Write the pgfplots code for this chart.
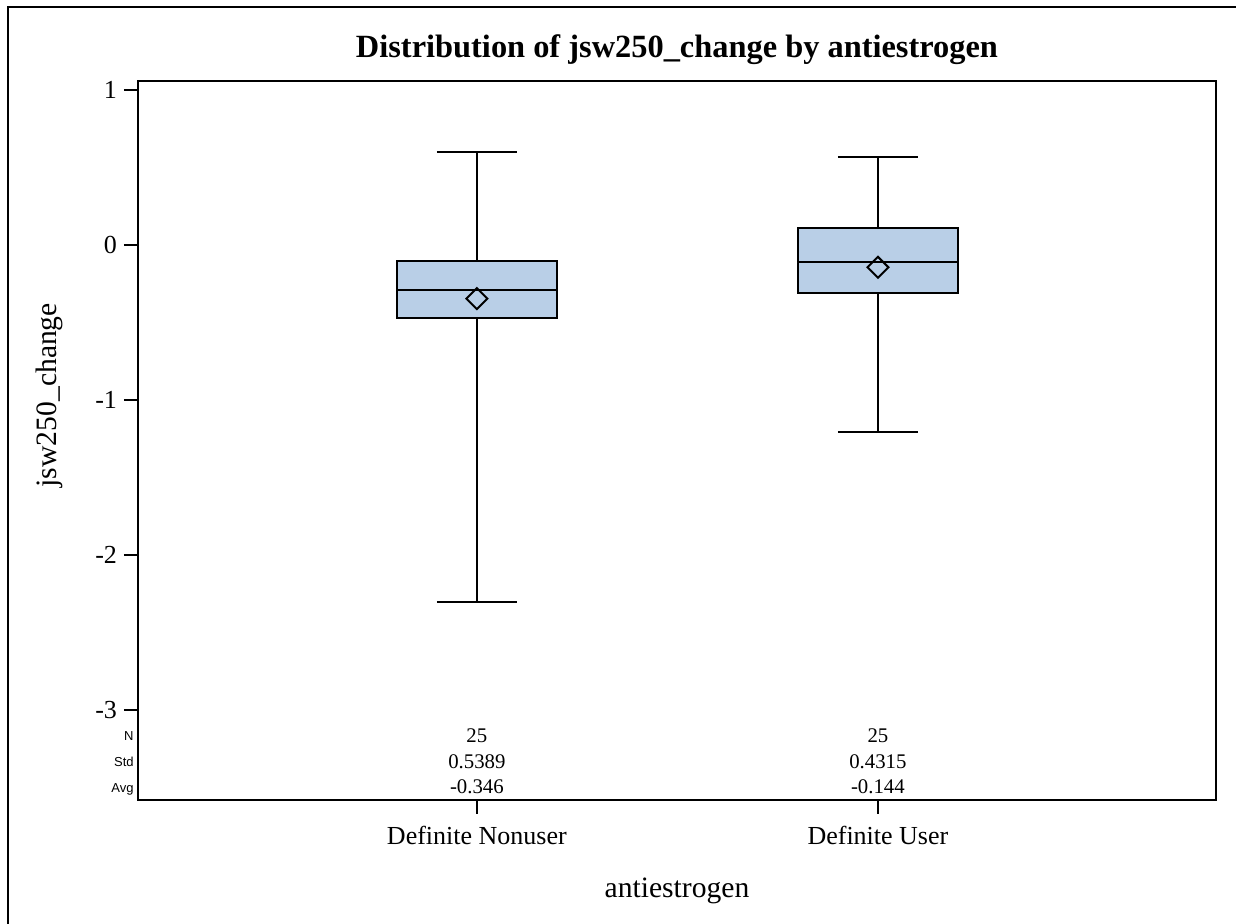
\documentclass[border=0pt]{standalone}
\usepackage{fontspec}
\setmainfont{Liberation Serif}
\newfontfamily\sasfont{Liberation Sans}
\usepackage{pgfplots}
\pgfplotsset{compat=1.18}
\usepgfplotslibrary{statistics}
\definecolor{boxblue}{RGB}{185,207,231}

\begin{document}
\begin{tikzpicture}
\begin{axis}[
    scale only axis, width=539pt, height=359.5pt,
    at={(69pt,62pt)}, anchor=south west,
    xmin=-0.845, xmax=1.843, ymin=-3.581, ymax=1.058,
    boxplot/draw direction=y,
    xtick={0,1}, xticklabels={Definite Nonuser, Definite User},
    ytick={-3,-2,-1,0,1},
    tick align=outside, xtick pos=bottom, ytick pos=left,
    major tick length=7pt,
    axis line style={line width=1pt},
    every tick/.style={black, line width=1pt},
    tick label style={font=\fontsize{13}{15}\selectfont},
    xticklabel style={yshift=-2.5pt},
    /pgf/number format/assume math mode=true,
    title={Distribution of jsw250\_change by antiestrogen},
    title style={font=\bfseries\fontsize{16.2}{19}\selectfont, at={(rel axis cs:0.5,1)}, anchor=base, yshift=5.5pt},
    xlabel={antiestrogen}, ylabel={jsw250\_change},
    label style={font=\fontsize{14.8}{17}\selectfont},
    xlabel style={at={(rel axis cs:0.5,-0.135)}, anchor=base},
    ylabel style={at={(rel axis cs:-0.0826,0.563)}, anchor=center},
    clip=false,
]
% Definite Nonuser
\addplot[draw=black, fill=boxblue, line width=1pt,
    boxplot prepared={lower whisker=-2.306, lower quartile=-0.469, median=-0.290,
        upper quartile=-0.103, upper whisker=0.598,
        draw position=0, box extend=0.4, whisker extend=0.2}]
    coordinates {};
% Definite User
\addplot[draw=black, fill=boxblue, line width=1pt,
    boxplot prepared={lower whisker=-1.208, lower quartile=-0.312, median=-0.112,
        upper quartile=0.108, upper whisker=0.570,
        draw position=1, box extend=0.4, whisker extend=0.2}]
    coordinates {};
% means
\addplot[only marks, mark=square, mark size=3.7pt, line width=1pt,
    mark options={rotate=45, draw=black, fill=none}]
    coordinates {(0,-0.346) (1,-0.144)};

% statistics table
\node[anchor=base, font=\fontsize{10.4}{12}\selectfont] at (axis cs:0,-3.213) {25};
\node[anchor=base, font=\fontsize{10.4}{12}\selectfont] at (axis cs:0,-3.381) {0.5389};
\node[anchor=base, font=\fontsize{10.4}{12}\selectfont] at (axis cs:0,-3.542) {-0.346};
\node[anchor=base, font=\fontsize{10.4}{12}\selectfont] at (axis cs:1,-3.213) {25};
\node[anchor=base, font=\fontsize{10.4}{12}\selectfont] at (axis cs:1,-3.381) {0.4315};
\node[anchor=base, font=\fontsize{10.4}{12}\selectfont] at (axis cs:1,-3.542) {-0.144};
\node[anchor=base east, inner xsep=0pt, xshift=-2pt, font=\sasfont\fontsize{6.5}{8}\selectfont] at (axis cs:-0.845,-3.200) {N};
\node[anchor=base east, inner xsep=0pt, xshift=-2pt, font=\sasfont\fontsize{6.5}{8}\selectfont] at (axis cs:-0.845,-3.368) {Std};
\node[anchor=base east, inner xsep=0pt, xshift=-2pt, font=\sasfont\fontsize{6.5}{8}\selectfont] at (axis cs:-0.845,-3.530) {Avg};
\end{axis}
\pgfresetboundingbox
\path[use as bounding box] (0,0) rectangle (618pt,462pt);
\draw[line width=1pt] (4.2pt,0) -- (4.2pt,458.6pt) -- (618pt,458.6pt);
\end{tikzpicture}
\end{document}
